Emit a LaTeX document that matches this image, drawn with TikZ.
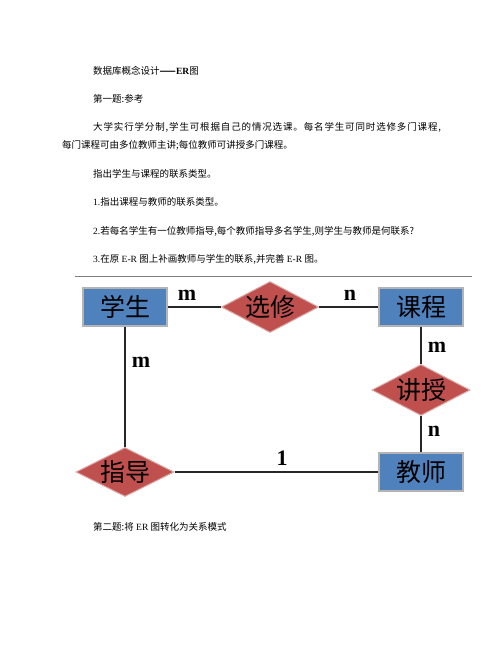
\documentclass[tikz,border=0pt]{standalone}
\usepackage{fontspec}
\setmainfont{Liberation Serif}
\newfontfamily\cjk{Noto Sans CJK SC}
\usetikzlibrary{shapes.geometric}
\newcommand\lat[1]{{\rmfamily #1}}
\definecolor{entblue}{HTML}{4F81BD}
\definecolor{relred}{HTML}{C0504D}
\definecolor{entedge}{HTML}{B4B4B4}
\definecolor{reledge}{HTML}{D8A8A6}
\tikzset{
  entity/.style={draw=entedge, line width=1.5pt, fill=entblue, minimum width=84pt, minimum height=38pt, inner sep=0pt, font=\cjk\fontsize{25}{25}\selectfont},
  relation/.style={diamond, draw=reledge, line width=1pt, fill=relred, minimum width=98pt, minimum height=51pt, inner sep=0pt},
  reltext/.style={font=\cjk\fontsize{25}{25}\selectfont, inner sep=0pt},
  card/.style={font=\bfseries\fontsize{22}{22}\selectfont, inner sep=0pt},
  conn/.style={draw=black!85, line width=1.1pt},
  para/.style={anchor=west, inner sep=0pt, font=\cjk\fontsize{9.5}{12}\selectfont}
}
\begin{document}
\begin{tikzpicture}[x=1pt,y=-1pt]
\useasboundingbox (0,0) rectangle (502,649);
% text
\node[para] (t1) at (93,71) {数据库概念设计\textbf{——}\lat{\textbf{ER}}图};
\node[para] (t2) at (93,99) {第一题:参考};
\node[para] (t3) at (93,127) {\addfontfeature{LetterSpace=9}大学实行学分制,学生可根据自己的情况选课。每名学生可同时选修多门课程,};
\node[para] (t4) at (62,145) {每门课程可由多位教师主讲;每位教师可讲授多门课程。};
\node[para] (t5) at (93,174) {指出学生与课程的联系类型。};
\node[para] (t6) at (93,202) {\lat{1.}指出课程与教师的联系类型。};
\node[para] (t7) at (93,231) {\lat{2.}若每名学生有一位教师指导,每个教师指导多名学生,则学生与教师是何联系?};
\node[para] (t8) at (93,259) {\lat{3.}在原\lat{ E-R }图上补画教师与学生的联系,并完善\lat{ E-R }图。};
\node[para] (t9) at (93,527) {第二题:将\lat{ ER }图转化为关系模式};
% rule
\coordinate (r1) at (75,276);
\coordinate (r2) at (472,276);
\draw[draw=black!50, line width=0.8pt] (r1) -- (r2);
% entities
\node[entity] (stu) at (125,307) {学生};
\node[entity] (course) at (421,307) {课程};
\node[entity] (teacher) at (421,472) {教师};
% relations
\node[relation, minimum width=97pt] (xuanxiu) at (270,307) {};
\node[reltext] at (xuanxiu.center) {选修};
\node[relation] (jiangshou) at (421,390) {};
\node[reltext] at (jiangshou.center) {讲授};
\node[relation, minimum height=49pt] (zhidao) at (125,472) {};
\node[reltext] at (zhidao.center) {指导};
% connectors
\draw[conn] (stu.east) -- (xuanxiu.west);
\draw[conn] (xuanxiu.east) -- (course.west);
\draw[conn] (course.south) -- (jiangshou.north);
\draw[conn] (jiangshou.south) -- (teacher.north);
\draw[conn] (stu.south) -- (zhidao.north);
\draw[conn] (zhidao.east) -- (teacher.west);
% cardinalities
\node[card] (c1) at (187,295) {m};
\node[card] (c2) at (350,295) {n};
\node[card] (c3) at (437,347) {m};
\node[card] (c4) at (434,431) {n};
\node[card] (c5) at (141,362) {m};
\node[card] (c6) at (282,458) {1};
\end{tikzpicture}
\end{document}
